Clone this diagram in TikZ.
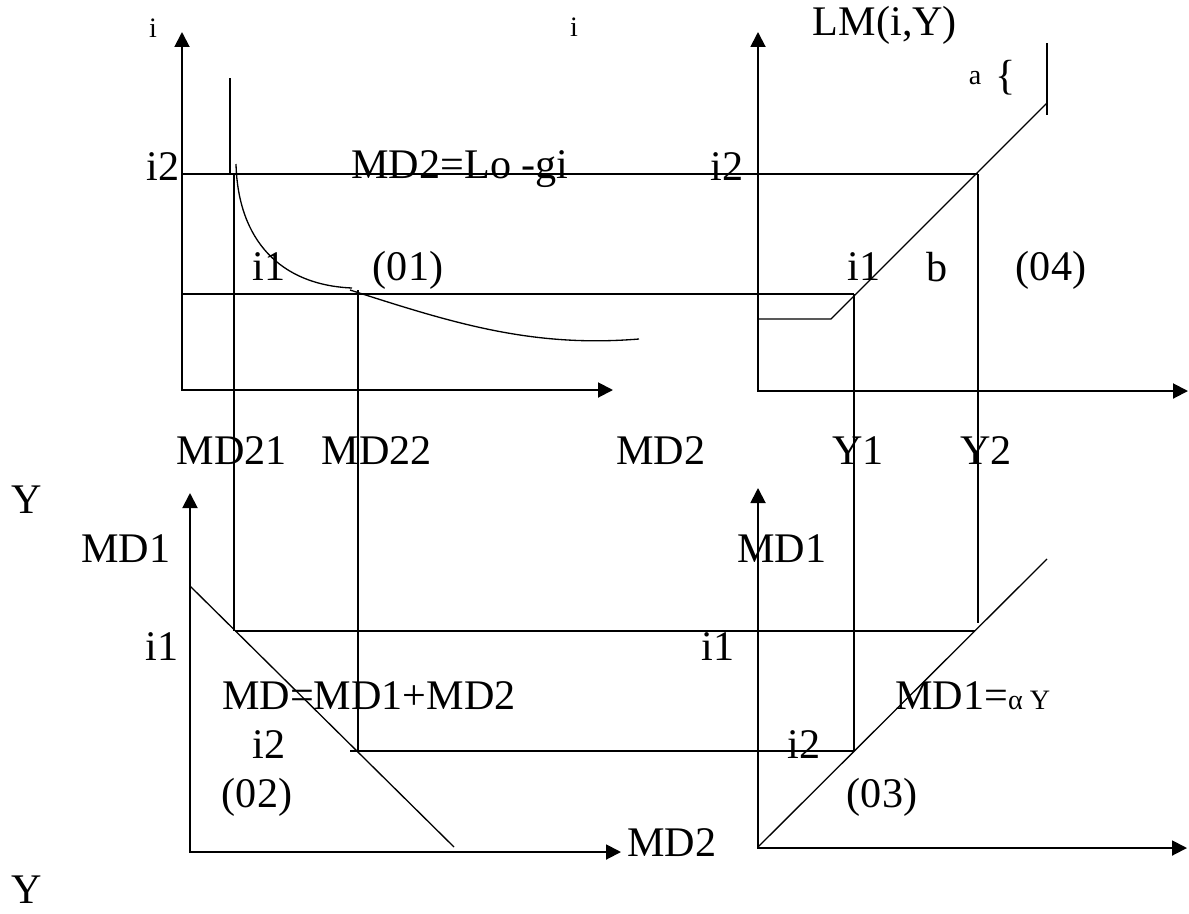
\documentclass[tikz,border=0pt]{standalone}
\usepackage{fontspec}
\setmainfont{Liberation Serif}
\usetikzlibrary{arrows.meta}
\tikzset{
  axes/.style={line width=1.1pt,{Triangle[length=0.3cm,width=0.3cm]}-{Triangle[length=0.3cm,width=0.3cm]}},
  guide/.style={line width=0.75pt},
  lbl/.style={inner sep=0pt,font=\fontsize{24}{28}\selectfont},
  small/.style={inner sep=0pt,font=\fontsize{16}{19}\selectfont}
}
\begin{document}
\begin{tikzpicture}[x=0.02cm,y=-0.02cm]
  \useasboundingbox (0,0) rectangle (1189,913);

  % the four axes
  \draw[axes] (182,32)--(182,390)--(613,390);
  \draw[axes] (758,32)--(758,391)--(1188,391);
  \draw[axes] (190,493)--(190,852)--(621,852);
  \draw[axes] (758,488)--(758,848)--(1187,848);

  % (01) demand for money as asset
  \draw[guide] (236,164) .. controls (238,240) and (280,285) .. (352,288);
  \draw[guide] (350,290) .. controls (450,322) and (530,348) .. (639,339);

  % (04) LM curve
  \draw[guide] (758,319)--(831,319)--(1047,103);
  \draw[guide] (1047,43)--(1047,115);

  % (02) and (03)
  \draw[guide] (190,586)--(454,847);
  \draw[guide] (758,847)--(1047,559);

  % linking lines
  \draw[guide] (230,78)--(230,174);
  \draw[guide] (234,174)--(234,631);
  \draw[guide] (358,290)--(358,751);
  \draw[guide] (854,294)--(854,751);
  \draw[guide] (978,174)--(978,623);
  \draw[guide] (182,174)--(978,174);
  \draw[guide] (182,294)--(854,294);
  \draw[guide] (235,631)--(975,631);
  \draw[guide] (350,751)--(854,751);

  % top labels
  \node[small] (iL) at (153,28) {i};
  \node[small] (iM) at (574,27) {i};
  \node[lbl] (lm) at (885,25) {LM(i,Y)};
  \node[small] (a) at (975,78) {a};
  \node[lbl] (brace) at (1006,78) {\{};
  \node[lbl] (i2L) at (163,167) {i2};
  \node[lbl] (md2f) at (460,169) {MD2=Lo -gi};
  \node[lbl] (i2R) at (727,167) {i2};
  \node[lbl] (i1L) at (269,267) {i1};
  \node[lbl] (q1) at (408,270) {(01)};
  \node[lbl] (i1R) at (864,267) {i1};
  \node[lbl] (b) at (937,267) {b};
  \node[lbl] (q4) at (1051,270) {(04)};

  % middle row
  \node[lbl] (md21) at (232,451) {MD21};
  \node[lbl] (md22) at (377,451) {MD22};
  \node[lbl] (md2x) at (661,451) {MD2};
  \node[lbl] (y1) at (858,451) {Y1};
  \node[lbl] (y2) at (986,451) {Y2};
  \node[lbl] (yT) at (27,500) {Y};
  \node[lbl] (md1L) at (126,549) {MD1};
  \node[lbl] (md1R) at (782,549) {MD1};

  % bottom labels
  \node[lbl] (i1BL) at (162,647) {i1};
  \node[lbl] (i1BR) at (718,647) {i1};
  \node[lbl] (mdsum) at (369,696) {MD=MD1+MD2};
  \node[lbl,anchor=west] (md1f) at (895,696) {MD1={\fontsize{16}{19}\selectfont α Y}};
  \node[lbl] (i2BL) at (269,745) {i2};
  \node[lbl] (i2BR) at (804,745) {i2};
  \node[lbl] (q2) at (257,797) {(02)};
  \node[lbl] (q3) at (882,797) {(03)};
  \node[lbl] (md2y) at (672,843) {MD2};
  \node[lbl] (yB) at (27,890) {Y};
\end{tikzpicture}
\end{document}
